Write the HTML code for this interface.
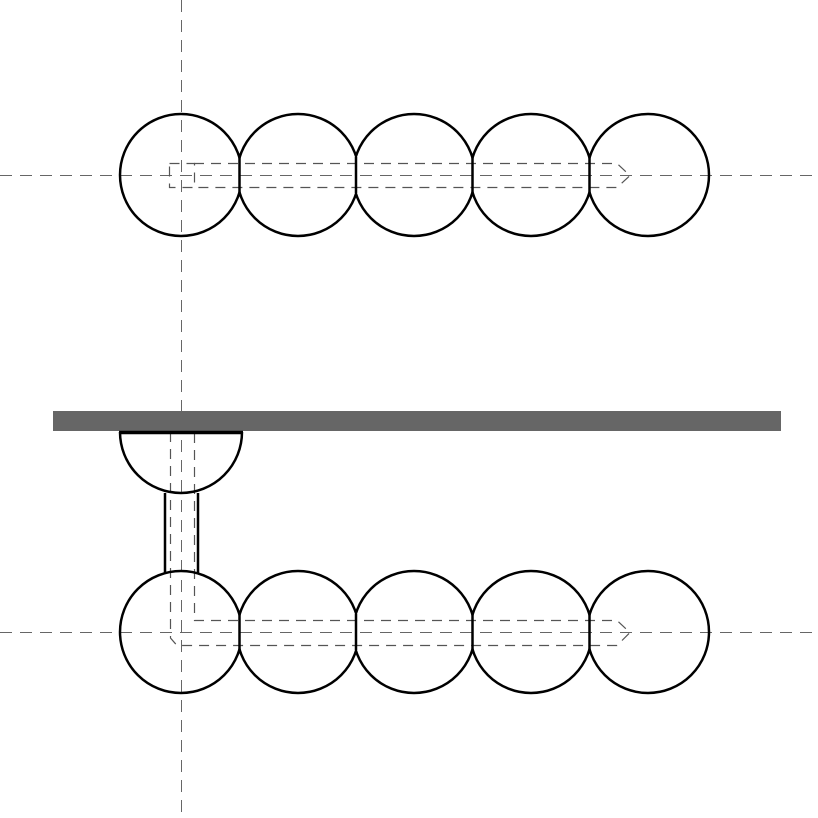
<!DOCTYPE html>
<html><head><style>body{margin:0;background:#fff}svg{display:block}</style></head><body>
<svg width="818" height="818" xmlns="http://www.w3.org/2000/svg">
<defs>
<clipPath id="c0"><rect x="0" y="0" width="239.5" height="818"/></clipPath>
<clipPath id="c1"><rect x="239.5" y="0" width="116.5" height="818"/></clipPath>
<clipPath id="c2"><rect x="356" y="0" width="116.5" height="818"/></clipPath>
<clipPath id="c3"><rect x="472.5" y="0" width="117" height="818"/></clipPath>
<clipPath id="c4"><rect x="589.5" y="0" width="300" height="818"/></clipPath>
</defs>
<g fill="none" stroke="#666" stroke-width="1" stroke-dasharray="12,8">
<line x1="0" y1="175.5" x2="818" y2="175.5"/>
<line x1="0" y1="632.5" x2="818" y2="632.5"/>
<line x1="181.5" y1="0" x2="181.5" y2="818"/>
</g>
<g fill="none" stroke="#555" stroke-width="1.2" stroke-dasharray="10,7">
<path d="M194 163.5 L617 163.5 L630 175.5 L617 187.5 L194 187.5"/>
<rect x="169.5" y="163.5" width="25" height="24"/>
<path d="M170.5 432 L170.5 638 L177 645.5 L617 645.5 L630 632.5 L617 620.5 L194.5 620.5 L194.5 432"/>
</g>
<rect x="53" y="411" width="728" height="20" fill="#666"/>
<g fill="none" stroke="#000" stroke-width="2.5">
<g>
<circle cx="181" cy="175" r="61" clip-path="url(#c0)"/><circle cx="298" cy="175" r="61" clip-path="url(#c1)"/><circle cx="414" cy="175" r="61" clip-path="url(#c2)"/><circle cx="531" cy="175" r="61" clip-path="url(#c3)"/><circle cx="648" cy="175" r="61" clip-path="url(#c4)"/>
<line x1="239.5" y1="157" x2="239.5" y2="193"/><line x1="356" y1="157" x2="356" y2="193"/><line x1="472.5" y1="157" x2="472.5" y2="193"/><line x1="589.5" y1="157" x2="589.5" y2="193"/>
</g>
<g transform="translate(0,457)">
<circle cx="181" cy="175" r="61" clip-path="url(#c0)"/><circle cx="298" cy="175" r="61" clip-path="url(#c1)"/><circle cx="414" cy="175" r="61" clip-path="url(#c2)"/><circle cx="531" cy="175" r="61" clip-path="url(#c3)"/><circle cx="648" cy="175" r="61" clip-path="url(#c4)"/>
<line x1="239.5" y1="157" x2="239.5" y2="193"/><line x1="356" y1="157" x2="356" y2="193"/><line x1="472.5" y1="157" x2="472.5" y2="193"/><line x1="589.5" y1="157" x2="589.5" y2="193"/>
</g>
<path d="M120 432 A61 61 0 0 0 242 432"/>
<line x1="165" y1="493" x2="165" y2="573"/>
<line x1="198" y1="493" x2="198" y2="573"/>
</g>
<line x1="119" y1="432.5" x2="243" y2="432.5" stroke="#000" stroke-width="3.5"/>
</svg>
</body></html>
